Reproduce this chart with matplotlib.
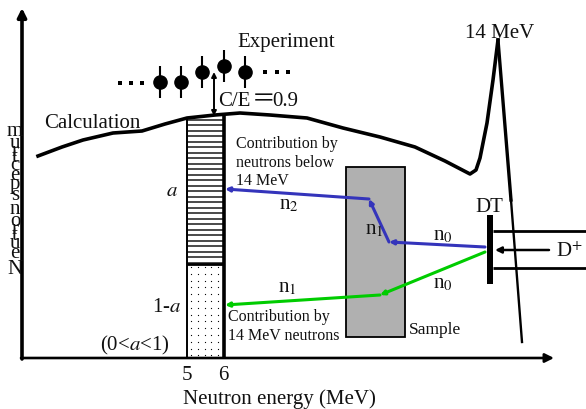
import numpy as np
import matplotlib
matplotlib.use('Agg')
import matplotlib.pyplot as plt
from matplotlib.patches import Rectangle

plt.rcParams['font.family'] = ['Liberation Serif', 'DejaVu Serif']
plt.rcParams['mathtext.fontset'] = 'stix'

# spectrum curve, in picture pixels
curve_x = [38, 62, 83, 113, 142, 165, 187, 215, 240, 270, 307, 343, 380, 415, 445, 470, 476, 480, 487, 493, 498]
curve_y = [156, 147, 140, 133, 131, 124, 118, 115, 113, 115, 118, 128, 137, 147, 161, 174, 170, 158, 123, 80, 40]
tail_x = [498, 511, 522]
tail_y = [40, 200, 342]

# experiment points
exp_x = [160, 181, 202, 224, 245]
exp_y = [82, 82, 72, 66, 72]
exp_err = [16, 16, 16, 16, 16]
dots_x = [120, 131, 142, 265, 277, 288]
dots_y = [83, 83, 83, 72, 72, 72]

# paths of the neutrons
blue_x = [485, 389, 369, 225]
blue_y = [247, 242, 199, 189]
green_x = [485, 380, 225]
green_y = [252, 295, 305]

# text labels: x, y, text, size, horizontal alignment
labels = [
    (286, 43, 'Experiment', 15, 'center'),
    (92, 123, 'Calculation', 15, 'center'),
    (500, 33, '14 MeV', 15, 'center'),
    (234, 102, 'C/E', 15, 'center'),
    (285, 102, '0.9', 15, 'center'),
    (236, 144, 'Contribution by', 11.5, 'left'),
    (236, 163, 'neutrons below', 11.5, 'left'),
    (236, 181, '14 MeV', 11.5, 'left'),
    (228, 317, 'Contribution by', 11.5, 'left'),
    (228, 336, '14 MeV neutrons', 11.5, 'left'),
    (409, 330, 'Sample', 12.5, 'left'),
    (172, 192, r'$\mathit{a}$', 15, 'center'),
    (167, 308, r'1-$\mathit{a}$', 15, 'center'),
    (135, 345, r'(0<$\mathit{a}$<1)', 15, 'center'),
    (187, 376, '5', 15, 'center'),
    (223, 376, '6', 15, 'center'),
    (279, 399, 'Neutron energy (MeV)', 15, 'center'),
    (489, 207, 'DT', 15, 'center'),
    (569, 252, r'D$^{+}$', 15, 'center'),
    (289, 205, r'n$_{2}$', 15, 'center'),
    (374, 230, r'n$_{1}$', 15, 'center'),
    (443, 236, r'n$_{0}$', 15, 'center'),
    (443, 284, r'n$_{0}$', 15, 'center'),
    (287, 288, r'n$_{1}$', 15, 'center'),
]

# y axis title, one upright letter at a time
ylabel_chars = list('Neutron') + list('spectrum')
ylabel_y = [269, 254, 244, 236, 230, 221, 210, 196, 185, 175, 165, 157, 152, 143, 132]


def arrow(ax, start, end, color='black', lw=2.0, style='-|>', scale=8):
    ax.annotate('', xy=end, xytext=start,
                arrowprops=dict(arrowstyle=style, color=color, lw=lw, mutation_scale=scale,
                                shrinkA=0, shrinkB=0))


fig = plt.figure(figsize=(5.86, 4.09), dpi=100)
ax = fig.add_axes([0, 0, 1, 1])
ax.set_xlim(0, 586)
ax.set_ylim(409, 0)
ax.axis('off')

# axes with arrows
arrow(ax, (22, 359), (22, 8), lw=2.6, scale=13)
arrow(ax, (21, 358), (554, 358), lw=1.9, scale=13)

# stacked bar between 5 and 6 MeV
ax.hlines(np.arange(119.5, 264, 5.5), 187, 224, color='#222222', lw=1.15, zorder=3)
gx, gy = np.meshgrid(np.arange(191, 224, 6.8), np.arange(267, 357, 6.8))
ax.scatter(gx.ravel(), gy.ravel(), s=0.8, color='black', linewidths=0, zorder=3)
ax.hlines(264, 187, 224, color='black', lw=2.0, zorder=4)
ax.vlines(187, 118, 358, color='black', lw=1.4, zorder=4)
ax.vlines(224, 116, 358, color='black', lw=2.6, zorder=4)

# curve
ax.plot(curve_x, curve_y, color='black', lw=2.6, solid_joinstyle='round', zorder=5)
ax.plot(tail_x[:2], tail_y[:2], color='black', lw=2.4, zorder=5)
ax.plot(tail_x[1:], tail_y[1:], color='black', lw=1.7, zorder=5)

# sample
ax.add_patch(Rectangle((346, 167), 59, 170, fc='#b0b0b0', ec='black', lw=1.3, zorder=1))

# source
ax.add_patch(Rectangle((487, 215), 5.8, 69, fc='black', ec='none', zorder=5))
ax.hlines([231, 268], 493, 586, color='black', lw=2.0)
arrow(ax, (549, 250), (495, 250), lw=1.8, scale=9)

# neutron paths
for i in range(len(blue_x) - 1):
    arrow(ax, (blue_x[i], blue_y[i]), (blue_x[i + 1], blue_y[i + 1]), color='#3434bb', lw=2.2, scale=6)
for i in range(len(green_x) - 1):
    arrow(ax, (green_x[i], green_y[i]), (green_x[i + 1], green_y[i + 1]), color='#00cc00', lw=2.2, scale=6)

# experiment
ax.errorbar(exp_x, exp_y, yerr=exp_err, fmt='o', color='black', ms=9.5, elinewidth=1.5, capsize=0)
ax.scatter(dots_x, dots_y, marker='s', s=9, color='black', linewidths=0)

# C/E arrow
arrow(ax, (214, 116), (214, 72), lw=1.4, style='<|-|>', scale=7)

for x, y, s, size, ha in labels:
    ax.text(x, y, s, fontsize=size, ha=ha, va='center', color='#111111', zorder=6)
ax.text(264, 100, '＝', fontsize=17, ha='center', va='center', color='#111111', zorder=6,
        family=['Noto Sans CJK SC', 'DejaVu Sans'])

for ch, y in zip(ylabel_chars, ylabel_y):
    ax.text(15, y, ch, fontsize=15, ha='center', va='center', color='#111111')

fig.savefig('out.png', dpi=100)
